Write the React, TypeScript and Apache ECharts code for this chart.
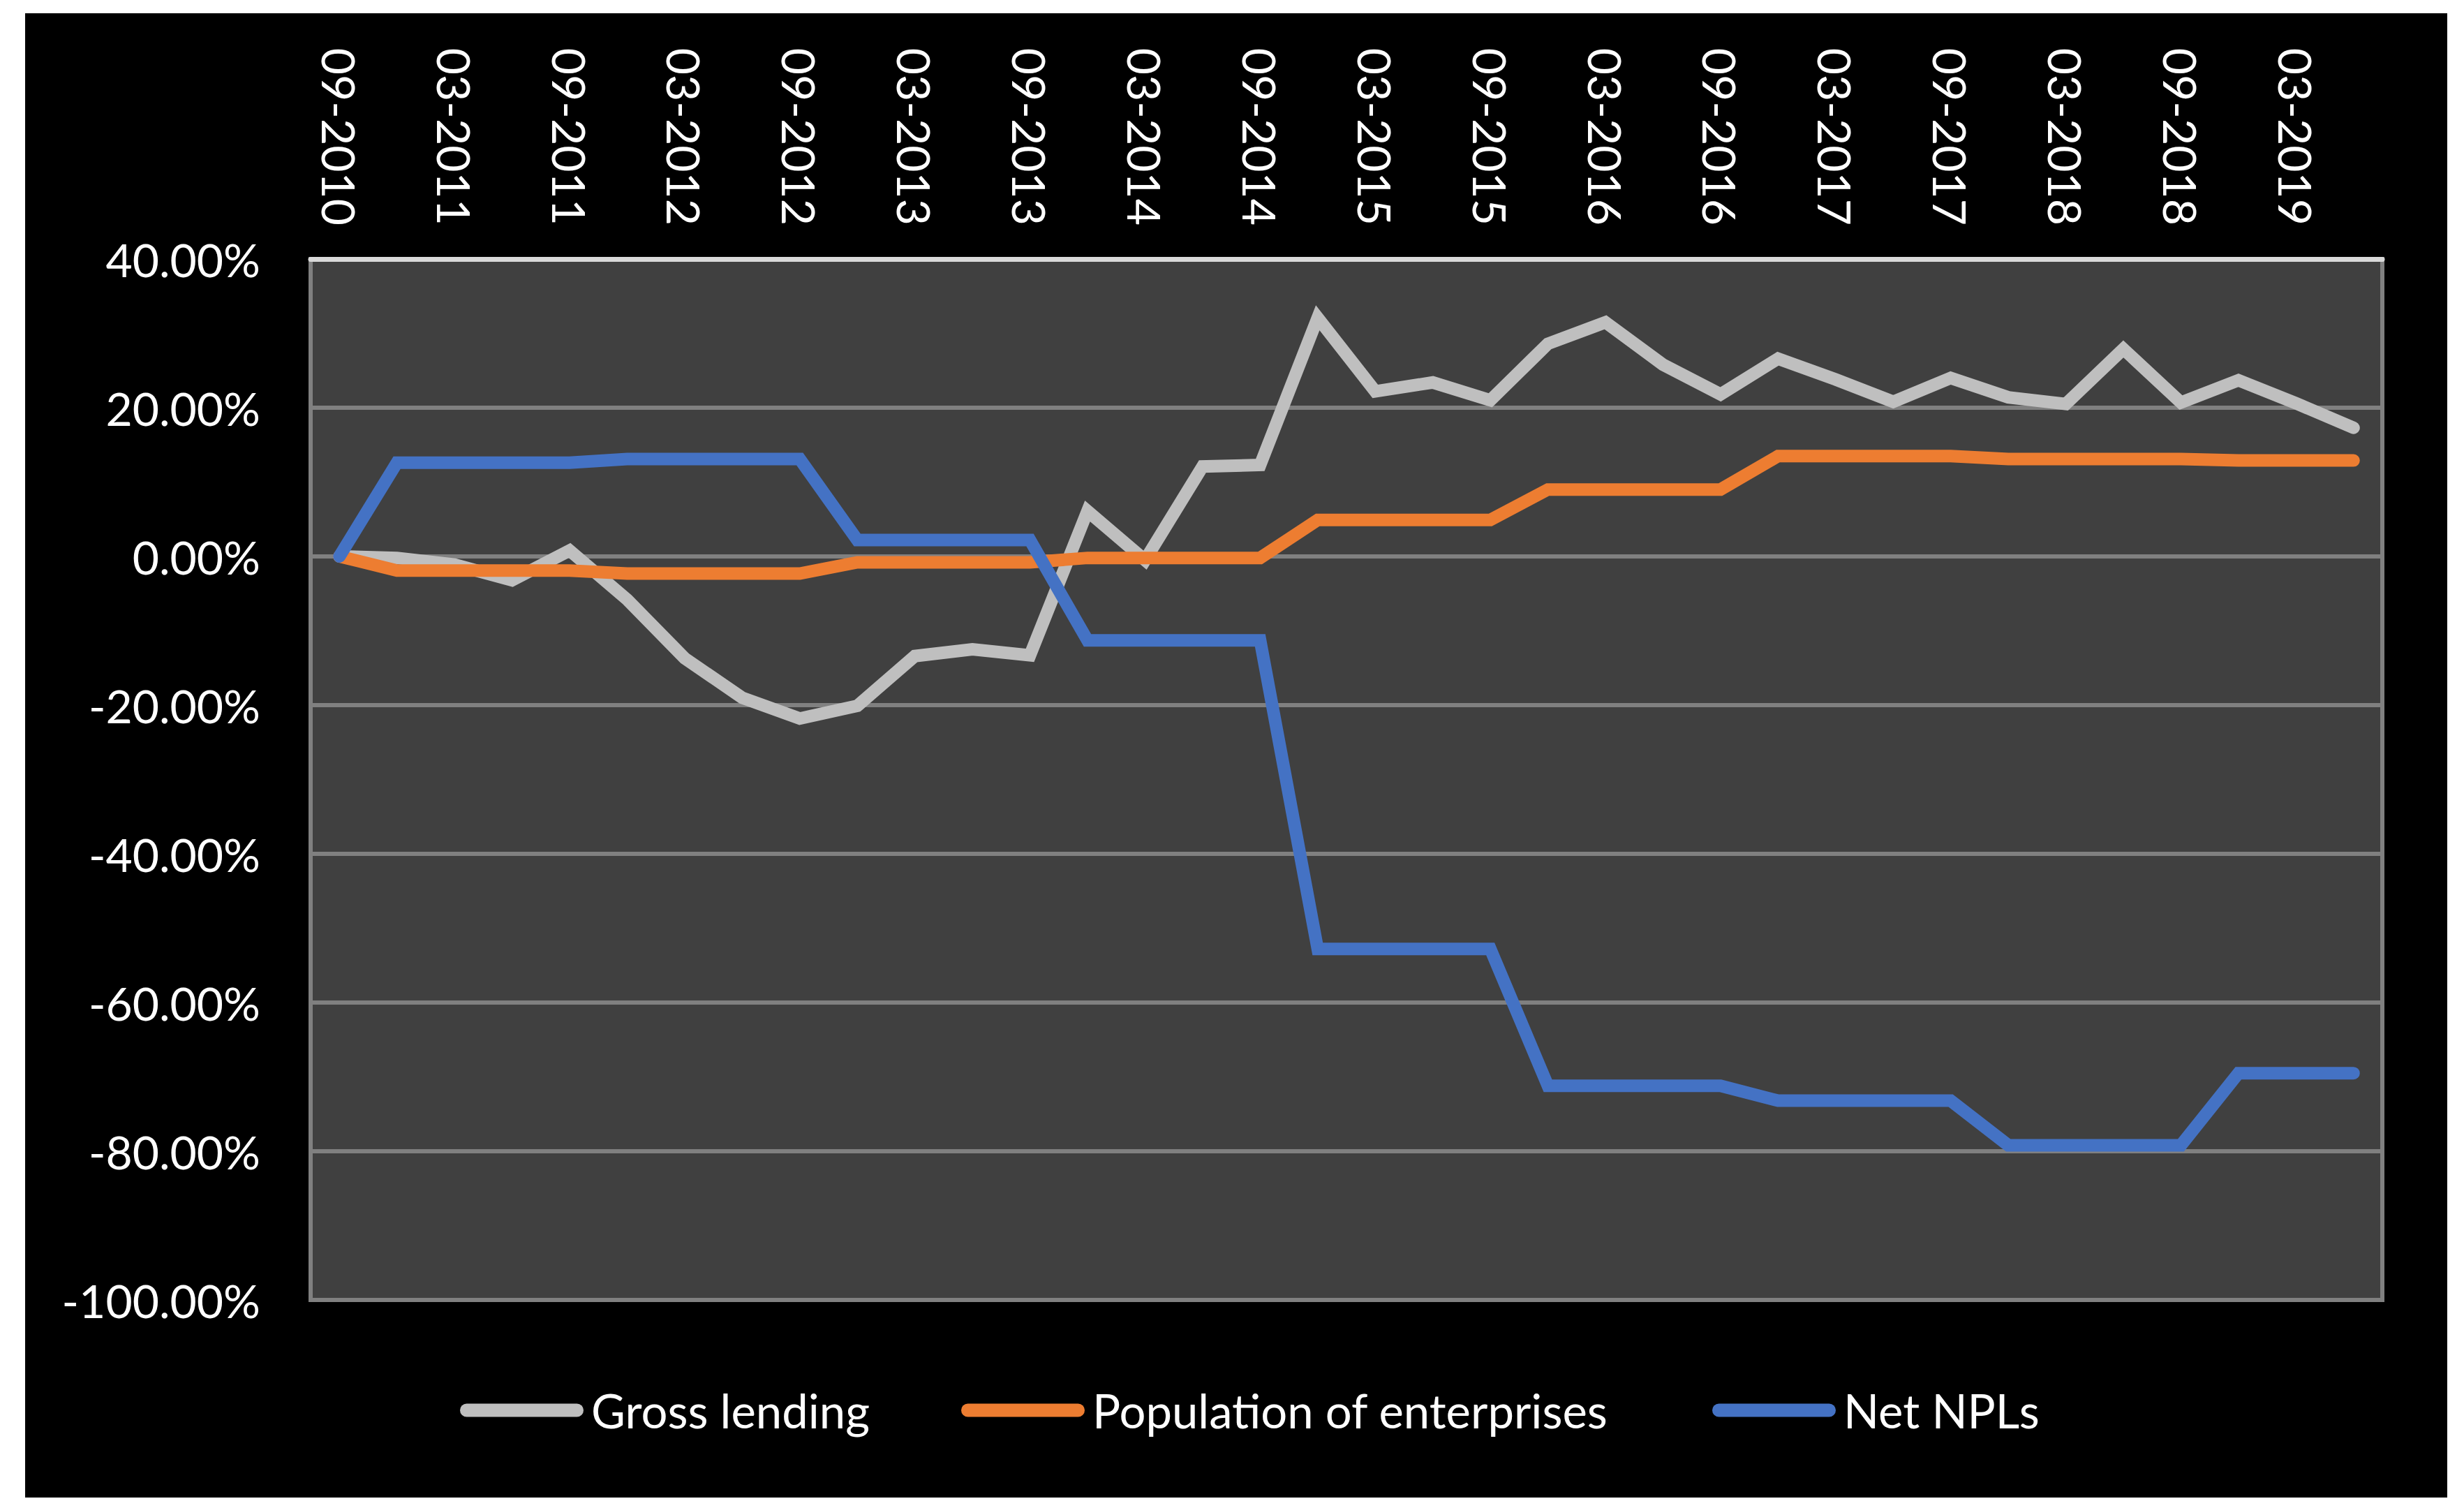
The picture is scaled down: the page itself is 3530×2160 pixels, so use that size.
import React, { useEffect, useRef } from "react";
import * as echarts from "echarts";

const categories = [
  "09-2010", "12-2010", "03-2011", "06-2011", "09-2011", "12-2011",
  "03-2012", "06-2012", "09-2012", "12-2012", "03-2013", "06-2013",
  "09-2013", "12-2013", "03-2014", "06-2014", "09-2014", "12-2014",
  "03-2015", "06-2015", "09-2015", "12-2015", "03-2016", "06-2016",
  "09-2016", "12-2016", "03-2017", "06-2017", "09-2017", "12-2017",
  "03-2018", "06-2018", "09-2018", "12-2018", "03-2019", "06-2019",
];

const grossLending = [
  0, -0.2, -1.1, -3.2, 0.8, -5.8, -13.7, -19.0, -21.8, -20.1, -13.4, -12.5,
  -13.3, 6.1, -0.5, 12.1, 12.3, 32.1, 22.2, 23.4, 21.0, 28.6, 31.5, 25.8,
  21.8, 26.6, 23.8, 20.8, 24.0, 21.4, 20.5, 27.9, 20.7, 23.7, 20.6, 17.3,
];

const populationOfEnterprises = [
  0, -1.9, -1.9, -1.9, -1.9, -2.3, -2.3, -2.3, -2.3, -0.8, -0.8, -0.8,
  -0.8, -0.2, -0.2, -0.2, -0.2, 4.9, 4.9, 4.9, 4.9, 9.0, 9.0, 9.0,
  9.0, 13.5, 13.5, 13.5, 13.5, 13.1, 13.1, 13.1, 13.1, 12.9, 12.9, 12.9,
];

const netNPLs = [
  0, 12.6, 12.6, 12.6, 12.6, 13.1, 13.1, 13.1, 13.1, 2.2, 2.2, 2.2,
  2.2, -11.3, -11.3, -11.3, -11.3, -52.8, -52.8, -52.8, -52.8, -71.2, -71.2, -71.2,
  -71.2, -73.2, -73.2, -73.2, -73.2, -79.2, -79.2, -79.2, -79.2, -69.5, -69.5, -69.5,
];

const seriesNames = ["Gross lending", "Population of enterprises", "Net NPLs"];
const seriesColors = ["#BFBFBF", "#ED7D31", "#4472C4"];
const yMin = -100;
const yMax = 40;
const yStep = 20;

const FONT = "Lato";

export default function App() {
  const ref = useRef<HTMLDivElement>(null);

  useEffect(() => {
    document.body.style.margin = "0";
    if (!ref.current) return;
    const chart = echarts.init(ref.current, undefined, { renderer: "svg" });

    const legendPositions = [618, 1336, 2412];
    const capsule =
      "path://M9.5,0H167.5A9.5,9.5,0,0,1,167.5,19H9.5A9.5,9.5,0,0,1,9.5,0Z";

    const dataSets = [grossLending, populationOfEnterprises, netNPLs];

    chart.setOption({
      animation: false,
      backgroundColor: "#000000",
      grid: {
        left: 409,
        top: 352,
        width: 2968,
        height: 1491,
        show: true,
        backgroundColor: "#404040",
        borderColor: "#808080",
        borderWidth: 6,
        containLabel: false,
      },
      legend: seriesNames.map((name, i) => ({
        data: [name],
        left: legendPositions[i],
        top: 1956,
        icon: capsule,
        itemWidth: 177,
        itemHeight: 19,
        selectedMode: false,
        itemStyle: { borderWidth: 0 },
        textStyle: {
          color: "#ffffff",
          fontSize: 67,
          fontFamily: FONT,
          lineHeight: 80,
          padding: [0, 0, 0, 6],
        },
      })),
      xAxis: {
        type: "category",
        data: categories,
        position: "top",
        boundaryGap: true,
        z: 3,
        axisLine: {
          show: true,
          onZero: false,
          lineStyle: { color: "#D9D9D9", width: 7 },
        },
        axisTick: { show: false },
        splitLine: { show: false },
        axisLabel: {
          interval: 1,
          rotate: 90,
          margin: 48,
          color: "#ffffff",
          fontSize: 66,
          fontFamily: FONT,
        },
      },
      yAxis: {
        type: "value",
        min: yMin,
        max: yMax,
        interval: yStep,
        axisLine: { show: true, lineStyle: { color: "#808080", width: 6 } },
        axisTick: { show: false },
        splitLine: { show: true, lineStyle: { color: "#808080", width: 6 } },
        axisLabel: {
          margin: 72,
          color: "#ffffff",
          fontSize: 66,
          fontFamily: FONT,
          formatter: (v: number) => `${v.toFixed(2)}%`,
        },
      },
      series: seriesNames.map((name, i) => ({
        name,
        type: "line",
        data: dataSets[i],
        showSymbol: false,
        symbol: "none",
        color: seriesColors[i],
        lineStyle: {
          color: seriesColors[i],
          width: 18,
          cap: "round",
          join: "miter",
        },
        emphasis: { disabled: true },
        z: 2 + i,
      })),
    });

    return () => {
      chart.dispose();
    };
  }, []);

  return (
    <div
      style={{
        position: "relative",
        width: 3530,
        height: 2160,
        background: "#ffffff",
        overflow: "hidden",
      }}
    >
      <div
        ref={ref}
        style={{
          position: "absolute",
          left: 36,
          top: 19,
          width: 3470,
          height: 2126,
          background: "#000000",
        }}
      />
    </div>
  );
}
